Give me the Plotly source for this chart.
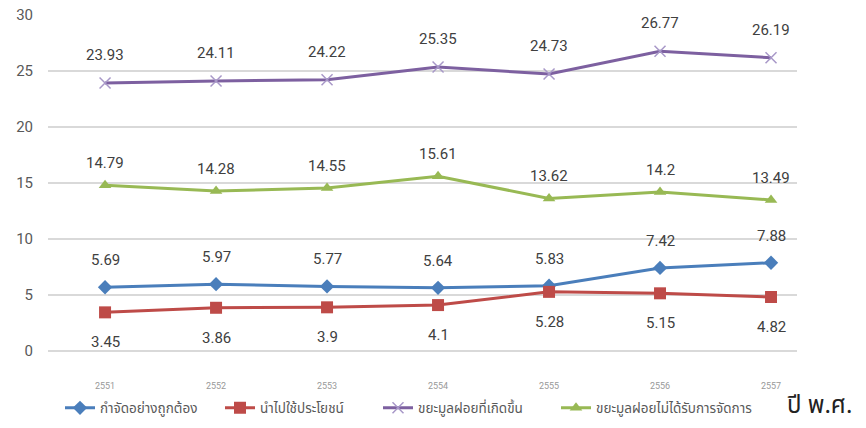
import plotly.graph_objects as go

years = ["2551", "2552", "2553", "2554", "2555", "2556", "2557"]
names = ["กำจัดอย่างถูกต้อง", "นำไปใช้ประโยชน์", "ขยะมูลฝอยที่เกิดขึ้น", "ขยะมูลฝอยไม่ได้รับการจัดการ"]
proper = [5.69, 5.97, 5.77, 5.64, 5.83, 7.42, 7.88]
utilized = [3.45, 3.86, 3.9, 4.1, 5.28, 5.15, 4.82]
generated = [23.93, 24.11, 24.22, 25.35, 24.73, 26.77, 26.19]
unmanaged = [14.79, 14.28, 14.55, 15.61, 13.62, 14.2, 13.49]
y_ticks = [0, 5, 10, 15, 20, 25, 30]

series = [
    (names[0], proper, "#4A7EBB", "diamond", 11, 27, "legend", 60),
    (names[1], utilized, "#BE4B48", "square", 12, -30, "legend2", 220),
    (names[2], generated, "#7D60A0", "x-thin", 11, 28, "legend3", 378),
    (names[3], unmanaged, "#98B954", "triangle-up", 11, 22, "legend4", 556),
]

FONT = "Liberation Sans Narrow, Roboto, Lato, sans-serif"
THAI = "Noto Sans Thai, Loma, Garuda, Tlwg Typo, Noto Sans, sans-serif"

fig = go.Figure()
legends = {}
for name, vals, color, sym, size, shift, leg, lx in series:
    marker = dict(symbol=sym, size=size, color=color)
    if sym == "x-thin":
        marker = dict(symbol=sym, size=size, color=color, line=dict(width=1.5, color="#A898C8"))
    fig.add_trace(go.Scatter(
        x=years, y=vals, mode="lines+markers", name=name, legend=leg,
        line=dict(color=color, width=3), marker=marker,
    ))
    for i, yv in enumerate(vals):
        fig.add_annotation(x=i, y=yv, text=f"{yv:g}", showarrow=False,
                           yshift=shift, font=dict(family=FONT, size=15, color="#404040"))
    legends[leg] = dict(orientation="h", xref="container", yref="container", x=lx / 866, y=1 - 408 / 428,
                        xanchor="left", yanchor="middle",
                        font=dict(family=THAI, size=13.5, color="#595959"),
                        itemwidth=30, bgcolor="rgba(0,0,0,0)")

fig.add_annotation(xref="paper", yref="paper", x=(785 - 48) / 749, y=-0.165, xanchor="left", yanchor="middle",
                   text="ปี พ.ศ.", showarrow=False, font=dict(family=THAI, size=24, color="#222222"))

fig.update_layout(
    width=866, height=428,
    margin=dict(l=48, r=69, t=15, b=77),
    paper_bgcolor="white", plot_bgcolor="white",
    showlegend=True,
    xaxis=dict(type="category", range=[-0.514, 6.234], showgrid=False, showline=False, automargin=False,
               ticks="", tickfont=dict(family=FONT, size=9, color="#999999"), ticklabelstandoff=28),
    yaxis=dict(range=[0, 30], tickvals=y_ticks, showgrid=True, gridcolor="#D9D9D9", gridwidth=2,
               automargin=False,
               zeroline=True, zerolinecolor="#D9D9D9", zerolinewidth=2, showline=False, ticks="",
               tickfont=dict(family=FONT, size=15, color="#595959"), ticklabelstandoff=14),
    **legends,
)
fig.write_html("out.html", config={"displayModeBar": False},
               post_script="document.body.style.margin='0px';")
